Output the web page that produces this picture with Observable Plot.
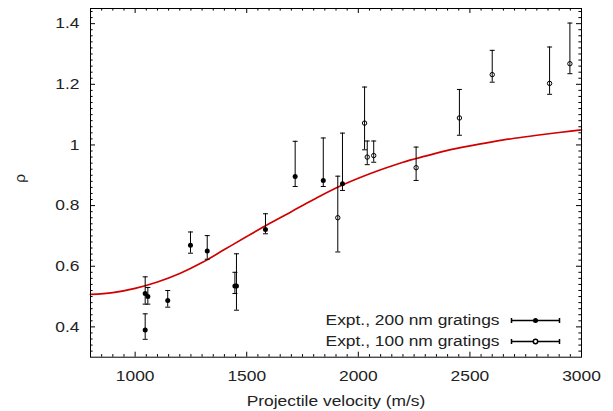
<!DOCTYPE html>
<html><head><meta charset="utf-8">
<script src="https://cdn.jsdelivr.net/npm/d3@7"></script>
<script src="https://cdn.jsdelivr.net/npm/@observablehq/plot@0.6"></script>
<style>html,body{margin:0;padding:0;background:#fff;} #chart{width:613px;height:411px;}</style>
</head><body><div id="chart"></div>
<script>
// 200 nm gratings (filled)
const v200   = [1045, 1045, 1057, 1146, 1248, 1323, 1447, 1454, 1584, 1717, 1843, 1929];
const rho200 = [0.390, 0.510, 0.500, 0.487, 0.669, 0.650, 0.535, 0.535, 0.721, 0.896, 0.883, 0.872];
const lo200  = [0.359, 0.475, 0.475, 0.465, 0.643, 0.623, 0.510, 0.455, 0.707, 0.863, 0.863, 0.850];
const hi200  = [0.443, 0.565, 0.530, 0.520, 0.713, 0.701, 0.580, 0.641, 0.773, 1.012, 1.023, 1.039];
// 100 nm gratings (open)
const v100   = [1908, 2028, 2040, 2069, 2259, 2453, 2600, 2857, 2948];
const rho100 = [0.760, 1.072, 0.960, 0.965, 0.925, 1.089, 1.232, 1.203, 1.268];
const lo100  = [0.647, 0.984, 0.935, 0.943, 0.883, 1.032, 1.207, 1.167, 1.235];
const hi100  = [0.897, 1.191, 1.013, 1.013, 0.993, 1.183, 1.312, 1.323, 1.402];
// model curve
const curveV   = [800, 900, 1000, 1100, 1200, 1300, 1400, 1500, 1600, 1700, 1800, 1900, 2000, 2100, 2200, 2300, 2400, 2500, 2600, 2700, 2800, 2900, 3000];
const curveRho = [0.507, 0.513, 0.527, 0.548, 0.576, 0.612, 0.655, 0.698, 0.740, 0.780, 0.820, 0.858, 0.890, 0.918, 0.943, 0.963, 0.982, 0.997, 1.010, 1.022, 1.032, 1.041, 1.050];
// ticks
const xTicks = [1000, 1500, 2000, 2500, 3000];
const xTickLabels = ["1000", "1500", "2000", "2500", "3000"];
const yTicks = [0.4, 0.6, 0.8, 1.0, 1.2, 1.4];
const yTickLabels = ["0.4", "0.6", "0.8", "1", "1.2", "1.4"];
const legendLabels = ["Expt., 200 nm gratings", "Expt., 100 nm gratings"];
const xLabel = "Projectile velocity (m/s)";
const yLabel = "ρ";

const pts200 = v200.map((v, i) => ({v, rho: rho200[i], lo: lo200[i], hi: hi200[i]}));
const pts100 = v100.map((v, i) => ({v, rho: rho100[i], lo: lo100[i], hi: hi100[i]}));
const curve = curveV.map((v, i) => ({v, rho: curveRho[i]}));
const allPts = pts200.concat(pts100);

const xMinor = d3.range(850, 3000, 50).filter(d => d % 500 !== 0);
const yMinor = d3.range(16, 73).map(k => k * 0.02).filter(d => Math.abs(d * 5 - Math.round(d * 5)) > 1e-6);

const W = 613, H = 411, mL = 90, mT = 8, mR = 32, mB = 54.3;
const plotW = W - mL - mR, plotH = H - mT - mB;
const MAJ = 5, MIN = 2.6;

const hcap = {draw(ctx) { ctx.moveTo(-2.5, 0); ctx.lineTo(2.5, 0); }};
const legendBar = {draw(ctx) {
  ctx.moveTo(-24, 0); ctx.lineTo(24, 0);
  ctx.moveTo(-24, -2.5); ctx.lineTo(-24, 2.5);
  ctx.moveTo(24, -2.5); ctx.lineTo(24, 2.5);
}};

const FS = 14.5;
const chart = Plot.plot({
  width: W, height: H,
  marginLeft: mL, marginTop: mT, marginRight: mR, marginBottom: mB,
  style: {fontFamily: "Liberation Sans, Arial, sans-serif", fontSize: FS + "px", background: "#fff", color: "#222"},
  x: {domain: [800, 3000]},
  y: {domain: [0.3, 1.45]},
  marks: [
    // inward ticks, all four sides
    Plot.tickX(xTicks, {x: d => d, insetTop: plotH - MAJ, stroke: "black"}),
    Plot.tickX(xTicks, {x: d => d, insetBottom: plotH - MAJ, stroke: "black"}),
    Plot.tickX(xMinor, {x: d => d, insetTop: plotH - MIN, stroke: "black"}),
    Plot.tickX(xMinor, {x: d => d, insetBottom: plotH - MIN, stroke: "black"}),
    Plot.tickY(yTicks, {y: d => d, insetRight: plotW - MAJ, stroke: "black"}),
    Plot.tickY(yTicks, {y: d => d, insetLeft: plotW - MAJ, stroke: "black"}),
    Plot.tickY(yMinor, {y: d => d, insetRight: plotW - MIN, stroke: "black"}),
    Plot.tickY(yMinor, {y: d => d, insetLeft: plotW - MIN, stroke: "black"}),
    Plot.axisX({ticks: xTicks, tickSize: 0, tickPadding: 14, tickFormat: d => xTickLabels[xTicks.indexOf(d)], label: null, fontSize: FS, fill: "#222"}),
    Plot.axisY({ticks: yTicks, tickSize: 0, tickPadding: 11, tickFormat: d => yTickLabels[yTicks.indexOf(d)], label: null, fontSize: FS, fill: "#222"}),
    Plot.text([xLabel], {frameAnchor: "bottom", dy: 43.7, text: d => d, fontSize: FS, fill: "#222", lineAnchor: "middle"}),
    Plot.text([yLabel], {frameAnchor: "left", dx: -70, text: d => d, fontSize: FS + 1, fill: "#222", rotate: -90, lineAnchor: "middle"}),
    // model curve
    Plot.line(curve, {x: "v", y: "rho", stroke: "#d00000", strokeWidth: 1.7, curve: "monotone-x"}),
    // error bars
    Plot.ruleX(allPts, {x: "v", y1: "lo", y2: "hi", stroke: "black", strokeWidth: 1}),
    Plot.dot(allPts, {x: "v", y: "lo", symbol: hcap, r: 3, stroke: "black", fill: "none", strokeWidth: 1}),
    Plot.dot(allPts, {x: "v", y: "hi", symbol: hcap, r: 3, stroke: "black", fill: "none", strokeWidth: 1}),
    // points
    Plot.dot(pts200, {x: "v", y: "rho", r: 2.5, fill: "black", stroke: "none"}),
    Plot.dot(pts100, {x: "v", y: "rho", r: 2.2, fill: "none", stroke: "black", strokeWidth: 1}),
    // legend
    Plot.text([legendLabels[0]], {frameAnchor: "bottom-right", dx: -82, dy: -36.7, text: d => d, textAnchor: "end", lineAnchor: "middle", fontSize: FS, fill: "#222"}),
    Plot.text([legendLabels[1]], {frameAnchor: "bottom-right", dx: -82, dy: -15.7, text: d => d, textAnchor: "end", lineAnchor: "middle", fontSize: FS, fill: "#222"}),
    Plot.dot([0], {frameAnchor: "bottom-right", dx: -46, dy: -36.7, symbol: legendBar, r: 3, stroke: "black", fill: "none"}),
    Plot.dot([0], {frameAnchor: "bottom-right", dx: -46, dy: -15.7, symbol: legendBar, r: 3, stroke: "black", fill: "none"}),
    Plot.dot([0], {frameAnchor: "bottom-right", dx: -46, dy: -36.7, r: 2.5, fill: "black", stroke: "none"}),
    Plot.dot([0], {frameAnchor: "bottom-right", dx: -46, dy: -15.7, r: 2.2, fill: "white", stroke: "black"}),
    Plot.frame({stroke: "black", strokeWidth: 1})
  ]
});
// widen glyphs horizontally (reference font is wider than Liberation Sans)
chart.querySelectorAll("text").forEach(t => {
  const tr = t.getAttribute("transform") || "";
  if (tr.includes("rotate")) return;
  const ax = parseFloat(t.getAttribute("x") || "0");
  t.setAttribute("transform", `${tr} translate(${ax},0) scale(1.2,1) translate(${-ax},0)`);
});
document.getElementById("chart").appendChild(chart);
</script>
</body></html>
